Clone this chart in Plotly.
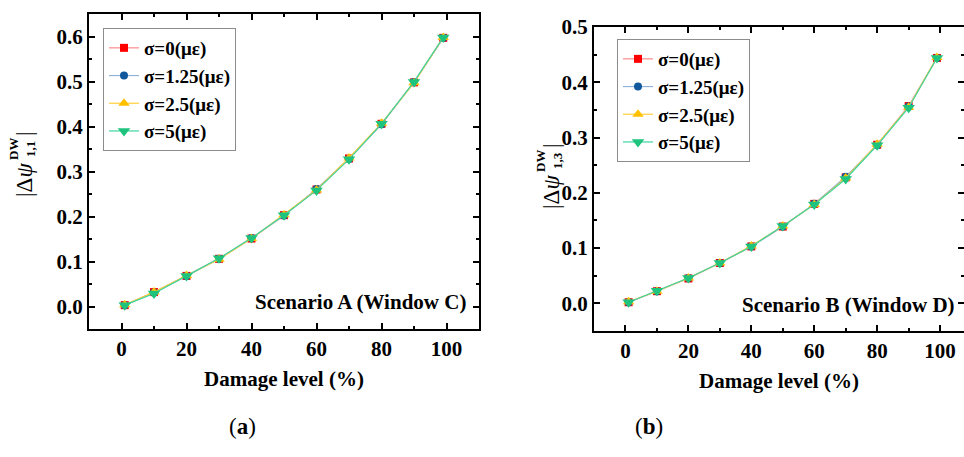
import plotly.graph_objects as go

# Damage levels (%) shared by both scenarios
damage = [1, 10, 20, 30, 40, 50, 60, 70, 80, 90, 99]

series_names = ["σ=0(με)", "σ=1.25(με)", "σ=2.5(με)", "σ=5(με)"]

# Scenario A (Window C): |Δψ^DW_1,1|
a_s0 = [0.003, 0.032, 0.068, 0.106, 0.151, 0.203, 0.260, 0.329, 0.406, 0.498, 0.597]
a_s125 = [0.003, 0.031, 0.068, 0.106, 0.152, 0.202, 0.261, 0.328, 0.405, 0.499, 0.597]
a_s25 = [0.004, 0.032, 0.069, 0.105, 0.151, 0.204, 0.259, 0.330, 0.407, 0.497, 0.598]
a_s5 = [0.003, 0.029, 0.068, 0.107, 0.152, 0.203, 0.258, 0.327, 0.406, 0.499, 0.598]

# Scenario B (Window D): |Δψ^DW_1,3|
b_s0 = [0.002, 0.022, 0.045, 0.073, 0.103, 0.139, 0.180, 0.228, 0.287, 0.357, 0.444]
b_s125 = [0.002, 0.022, 0.046, 0.073, 0.103, 0.139, 0.180, 0.229, 0.286, 0.356, 0.444]
b_s25 = [0.003, 0.022, 0.046, 0.073, 0.104, 0.140, 0.179, 0.227, 0.288, 0.355, 0.445]
b_s5 = [0.002, 0.023, 0.046, 0.073, 0.103, 0.140, 0.179, 0.225, 0.286, 0.354, 0.444]

marker_colors = ["#ff0000", "#12589c", "#ffc000", "#1ec47e"]
line_colors = ["#ff8a8a", "#8fb2d6", "#ffcf3a", "#3fd6a0"]
symbols = ["square", "circle", "triangle-up", "triangle-down"]
marker_sizes = [8, 8, 10, 11]

FONT = "Liberation Serif"
W, H = 964, 457

def px(x):
    return x / W

def py(y):
    return 1 - y / H

fig = go.Figure()

panels = [
    ([a_s0, a_s125, a_s25, a_s5], "x", "y", "legend"),
    ([b_s0, b_s125, b_s25, b_s5], "x2", "y2", "legend2"),
]
for data, xa, ya, lg in panels:
    for i, vals in enumerate(data):
        fig.add_trace(go.Scatter(
            x=damage, y=vals, name=series_names[i], mode="lines+markers",
            xaxis=xa, yaxis=ya, legend=lg,
            line=dict(color=line_colors[i], width=1.2),
            marker=dict(symbol=symbols[i], size=marker_sizes[i], color=marker_colors[i]),
        ))

tickfont = dict(family=FONT, size=21, color="black", weight="bold")
axis_common = dict(
    showline=True, linecolor="black", linewidth=2, mirror="allticks",
    ticks="inside", ticklen=6, tickwidth=1.5, tickcolor="black",
    showgrid=False, zeroline=False, tickfont=tickfont, automargin=False,
)
title_font = dict(family=FONT, size=21, color="black", weight="bold")

fig.update_layout(
    width=W, height=H, margin=dict(l=0, r=0, t=0, b=0),
    paper_bgcolor="white", plot_bgcolor="white",
    xaxis=dict(domain=[px(89), px(479)], range=[-10, 110], dtick=20, tick0=0,
               anchor="y",
               minor=dict(ticks="inside", dtick=10, ticklen=3, tickcolor="black"),
               title=dict(text="Damage level (%)", standoff=11, font=title_font),
               **axis_common),
    yaxis=dict(domain=[py(329), py(14)], range=[-0.05, 0.65], dtick=0.1, tick0=0,
               tickformat=".1f", anchor="x",
               minor=dict(ticks="inside", dtick=0.05, ticklen=3, tickcolor="black"),
               **axis_common),
    xaxis2=dict(domain=[px(594), 1.0], range=[-10, 107.6], dtick=20, tick0=0,
                anchor="y2",
                minor=dict(ticks="inside", dtick=10, ticklen=3, tickcolor="black"),
                title=dict(text="Damage level (%)", standoff=11, font=title_font),
                **axis_common),
    yaxis2=dict(domain=[py(331), py(27)], range=[-0.05, 0.5], dtick=0.1, tick0=0,
                tickformat=".1f", anchor="x2",
                minor=dict(ticks="inside", dtick=0.05, ticklen=3, tickcolor="black"),
                **axis_common),
    legend=dict(x=px(103), y=py(28), xanchor="left", yanchor="top",
                bgcolor="white", bordercolor="#8c8c8c", borderwidth=1,
                font=dict(family=FONT, size=19, color="black", weight="bold"),
                tracegroupgap=0, itemwidth=30),
    legend2=dict(x=px(617), y=py(39), xanchor="left", yanchor="top",
                 bgcolor="white", bordercolor="#8c8c8c", borderwidth=1,
                 font=dict(family=FONT, size=19, color="black", weight="bold"),
                 tracegroupgap=0, itemwidth=30),
)

annots = []
# Scenario captions inside each panel
annots.append(dict(text="Scenario A (Window C)", x=px(468), y=py(302), xref="paper", yref="paper",
                   xanchor="right", yanchor="middle", showarrow=False,
                   font=dict(family=FONT, size=21, color="black", weight="bold")))
annots.append(dict(text="Scenario B (Window D)", x=px(957), y=py(305), xref="paper", yref="paper",
                   xanchor="right", yanchor="middle", showarrow=False,
                   font=dict(family=FONT, size=21, color="black", weight="bold")))

# Rotated y-axis titles |Δψ^DW_{1,k}| assembled from pieces
for dx, dy, sub in [(0, 0, "1,1"), (527, 12, "1,3")]:
    annots.append(dict(text="|Δ<i>ψ</i>", x=px(24 + dx), y=py(180 + dy), xref="paper", yref="paper",
                       textangle=-90, showarrow=False, xanchor="center", yanchor="middle",
                       font=dict(family=FONT, size=23, color="black")))
    annots.append(dict(text="<b>DW</b><br><b>" + sub + "</b>", x=px(22 + dx), y=py(149 + dy),
                       xref="paper", yref="paper", textangle=-90, showarrow=False,
                       xanchor="center", yanchor="middle",
                       font=dict(family=FONT, size=13, color="black")))
    annots.append(dict(text="|", x=px(24 + dx), y=py(134 + dy), xref="paper", yref="paper",
                       textangle=-90, showarrow=False, xanchor="center", yanchor="middle",
                       font=dict(family=FONT, size=23, color="black")))

# Sub-figure labels
annots.append(dict(text="(<b>a</b>)", x=px(227), y=py(441), xref="paper", yref="paper",
                   showarrow=False, font=dict(family=FONT, size=23, color="black")))
annots.append(dict(text="(<b>b</b>)", x=px(665), y=py(441), xref="paper", yref="paper",
                   showarrow=False, font=dict(family=FONT, size=23, color="black")))

fig.update_layout(annotations=annots)
fig.write_html("out.html")
